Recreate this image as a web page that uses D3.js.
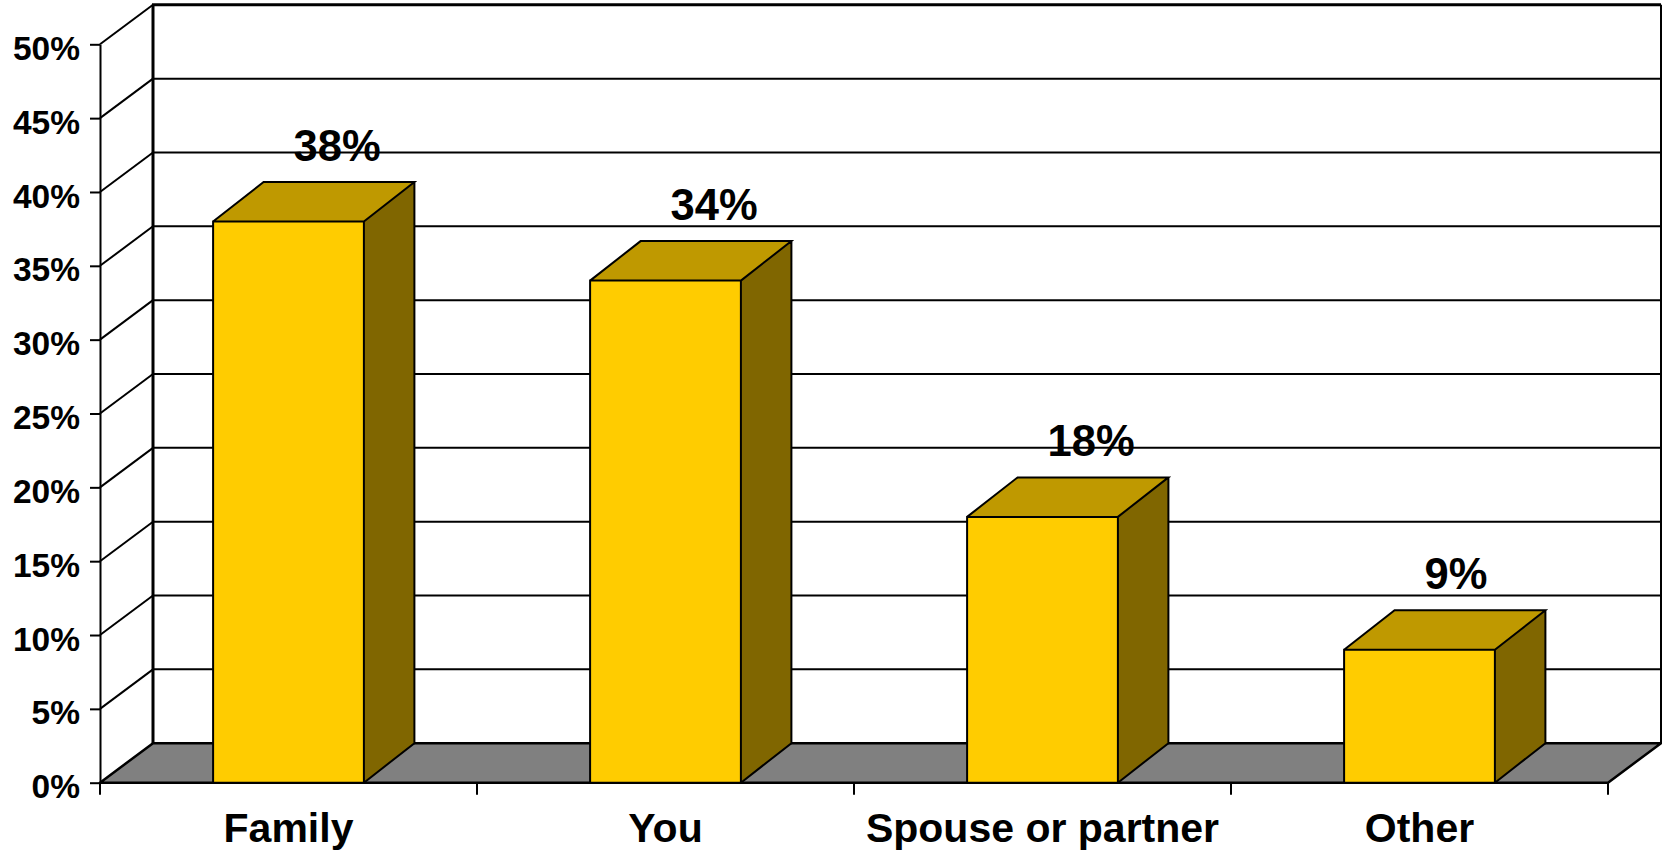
<!DOCTYPE html>
<html>
<head>
<meta charset="utf-8">
<script src="https://cdn.jsdelivr.net/npm/d3@7"></script>
<style>
  html, body { margin: 0; padding: 0; background: #fff; }
  svg { display: block; }
  text { font-family: "Liberation Sans", Arial, sans-serif; font-weight: bold; fill: #000; }
</style>
</head>
<body>
<svg id="chart" width="1662" height="857"></svg>
<script>
// Survey shares by category
const categories = ["Family", "You", "Spouse or partner", "Other"];
const values = [38, 34, 18, 9];
const valueLabels = ["38%", "34%", "18%", "9%"];
const yTicks = [0, 5, 10, 15, 20, 25, 30, 35, 40, 45, 50];

const svg = d3.select("#chart");

// Oblique projection: the wall sits up and to the right of the front plane
const wallDX = 53, wallDY = 39.5;
const barDX = 50.5, barDY = 39.5;
const barFrac = 0.4;

const colors = {
  front: "#FFCC00",
  top: "#BF9900",
  side: "#806600",
  floor: "#808080"
};

const x = d3.scaleBand().domain(categories).range([100, 1608]).padding(0);
const y = d3.scaleLinear().domain([0, 50]).range([782.7, 44.3]);

const x0 = x.range()[0], x1 = x.range()[1];
const yMin = y(0), yMax = y(50);

// Back wall
svg.append("rect")
  .attr("x", x0 + wallDX).attr("y", yMax - wallDY)
  .attr("width", x1 - x0).attr("height", yMin - yMax)
  .attr("fill", "#fff");

// Horizontal gridlines on the back wall
svg.append("g").selectAll("line")
  .data(yTicks.filter(t => t > 0 && t < 50))
  .join("line")
  .attr("x1", x0 + wallDX).attr("x2", x1 + wallDX)
  .attr("y1", d => y(d) - wallDY).attr("y2", d => y(d) - wallDY)
  .attr("stroke", "#000").attr("stroke-width", 2);

// Wall outline: top, left and right edges
svg.append("line")
  .attr("x1", x0 + wallDX - 1).attr("x2", x1 + wallDX)
  .attr("y1", yMax - wallDY).attr("y2", yMax - wallDY)
  .attr("stroke", "#000").attr("stroke-width", 3);
svg.append("line")
  .attr("x1", x0 + wallDX).attr("x2", x0 + wallDX)
  .attr("y1", yMax - wallDY).attr("y2", yMin - wallDY)
  .attr("stroke", "#000").attr("stroke-width", 3);
svg.append("line")
  .attr("x1", x1 + wallDX).attr("x2", x1 + wallDX)
  .attr("y1", yMax - wallDY).attr("y2", yMin - wallDY)
  .attr("stroke", "#000").attr("stroke-width", 2);

// Side wall diagonals at each tick
svg.append("g").selectAll("line")
  .data(yTicks.filter(t => t > 0))
  .join("line")
  .attr("x1", x0).attr("x2", x0 + wallDX)
  .attr("y1", d => y(d)).attr("y2", d => y(d) - wallDY)
  .attr("stroke", "#000").attr("stroke-width", 2);

// Floor
svg.append("path")
  .attr("d", `M${x0},${yMin} L${x1},${yMin} L${x1 + wallDX},${yMin - wallDY} L${x0 + wallDX},${yMin - wallDY} Z`)
  .attr("fill", colors.floor)
  .attr("stroke", "#000").attr("stroke-width", 2.5)
  .attr("stroke-linejoin", "round");

// Bars
const bw = x.bandwidth() * barFrac;
const bars = svg.append("g").selectAll("g")
  .data(categories.map((c, i) => ({ c, v: values[i], label: valueLabels[i] })))
  .join("g");

bars.each(function (d) {
  const g = d3.select(this);
  const l = x(d.c) + (x.bandwidth() - bw) / 2;
  const r = l + bw;
  const t = y(d.v);
  const b = yMin;
  // side face
  g.append("path")
    .attr("d", `M${r},${b} L${r + barDX},${b - barDY} L${r + barDX},${t - barDY} L${r},${t} Z`)
    .attr("fill", colors.side);
  // top face
  g.append("path")
    .attr("d", `M${l},${t} L${r},${t} L${r + barDX},${t - barDY} L${l + barDX},${t - barDY} Z`)
    .attr("fill", colors.top);
  // front face
  g.append("rect")
    .attr("x", l).attr("y", t).attr("width", bw).attr("height", b - t)
    .attr("fill", colors.front);
  // outlines
  g.append("path")
    .attr("d", `M${l},${b} L${l},${t} L${r},${t} L${r},${b} Z
                M${l},${t} L${l + barDX},${t - barDY} L${r + barDX},${t - barDY} L${r},${t}
                M${r + barDX},${t - barDY} L${r + barDX},${b - barDY} L${r},${b}`)
    .attr("fill", "none")
    .attr("stroke", "#000").attr("stroke-width", 2)
    .attr("stroke-linejoin", "miter");
  // value label
  g.append("text")
    .attr("x", l + bw / 2 + 5)
    .attr("y", t - barDY - 21)
    .attr("text-anchor", "start")
    .style("font-size", "43.5px")
    .text(d.label);
});

// Y axis
const yAxis = svg.append("g")
  .attr("transform", `translate(${x0},0)`)
  .call(d3.axisLeft(y).tickValues(yTicks).tickFormat(d => d + "%").tickSize(10).tickPadding(10).tickSizeOuter(0));
yAxis.select(".domain").attr("stroke", "#000").attr("stroke-width", 2);
yAxis.selectAll(".tick line").attr("stroke", "#000").attr("stroke-width", 2);
yAxis.selectAll(".tick text")
  .attr("dy", "0.45em")
  .style("font-size", "33.5px")
  .style("font-family", "'Liberation Sans', Arial, sans-serif")
  .style("font-weight", "bold");

// X axis: front floor edge with boundary ticks and category labels
const xAxis = svg.append("g")
  .attr("transform", `translate(0,${yMin})`)
  .call(d3.axisBottom(x).tickSize(0).tickPadding(30).tickSizeOuter(0));
xAxis.select(".domain").remove();
xAxis.selectAll(".tick text")
  .style("font-size", "41px")
  .style("font-family", "'Liberation Sans', Arial, sans-serif")
  .style("font-weight", "bold");

const bounds = categories.map(c => x(c)).concat([x1]);
svg.append("g").selectAll("line")
  .data(bounds)
  .join("line")
  .attr("x1", d => d).attr("x2", d => d)
  .attr("y1", yMin).attr("y2", yMin + 12)
  .attr("stroke", "#000").attr("stroke-width", 2);
</script>
</body>
</html>
